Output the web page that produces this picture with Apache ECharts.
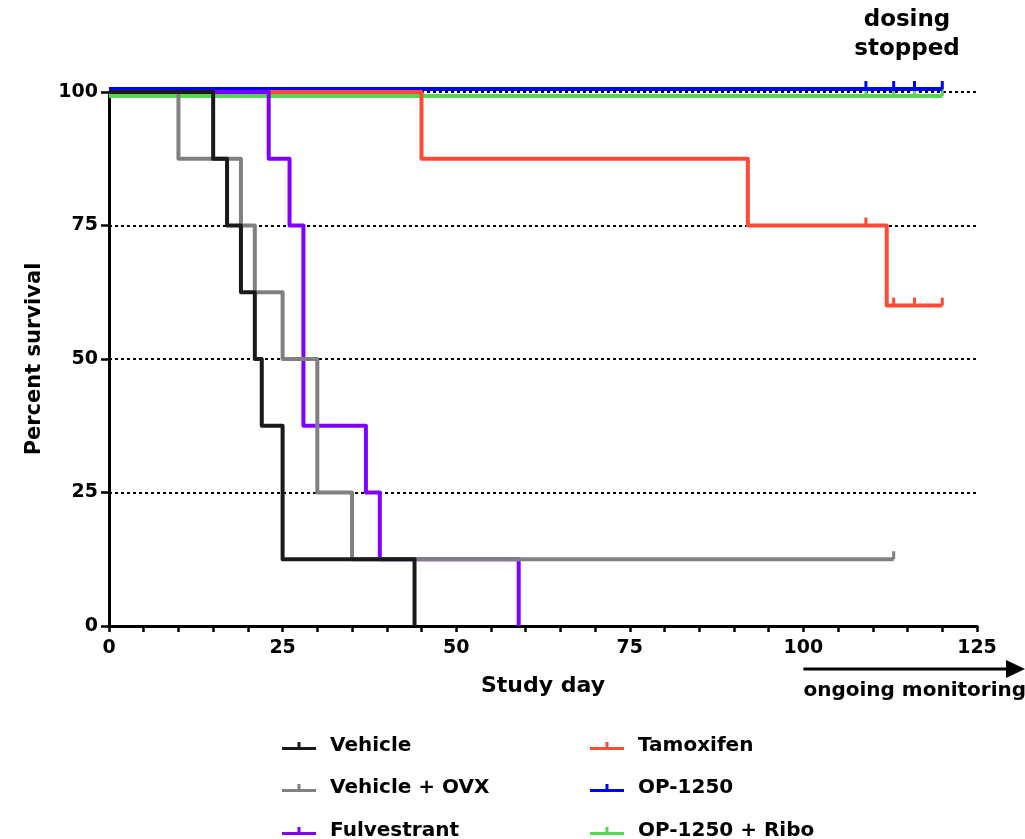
<!DOCTYPE html>
<html>
<head>
<meta charset="utf-8">
<title>Percent survival</title>
<script src="https://cdn.jsdelivr.net/npm/echarts@6/dist/echarts.min.js"></script>
<style>
  html, body { margin: 0; padding: 0; background: #ffffff; }
  #chart { width: 1025px; height: 839px; }
</style>
</head>
<body>
<div id="chart"></div>
<script>
// Kaplan–Meier step data: event days and survival (%) after each event
const vehicleDays = [0, 15, 17, 19, 21, 22, 25, 44];
const vehicleSurv = [100, 87.5, 75, 62.5, 50, 37.5, 12.5, 0];
const vehicleCensor = [];

const ovxDays = [0, 10, 19, 21, 25, 30, 35, 113];
const ovxSurv = [100, 87.5, 75, 62.5, 50, 25, 12.5, 12.5];
const ovxCensor = [113];

const fulvDays = [0, 23, 26, 28, 37, 39, 59];
const fulvSurv = [100, 87.5, 75, 37.5, 25, 12.5, 0];
const fulvCensor = [];

const tamDays = [0, 45, 92, 112, 120];
const tamSurv = [100, 87.5, 75, 60, 60];
const tamCensor = [109, 113, 116, 120];

const opDays = [0, 120];
const opSurv = [100, 100];
const opCensor = [109, 113, 116, 120];

const riboDays = [0, 120];
const riboSurv = [100, 100];
const riboCensor = [109, 113, 116, 120];

const xTicks = [0, 25, 50, 75, 100, 125];
const yTicks = [0, 25, 50, 75, 100];

const FONT = '"DejaVu Sans", "Liberation Sans", sans-serif';

// survival value in force on a given day (step function lookup)
function survAt(days, surv, day) {
  let v = surv[0];
  for (let i = 0; i < days.length; i++) {
    if (days[i] <= day) v = surv[i];
  }
  return v;
}

// draws one step curve plus its censor ticks; dy separates curves sharing 100%
function stepRenderer(days, surv, censor, color, dy) {
  return function (params, api) {
    if (params.dataIndex !== 0) return null;
    const pts = [];
    for (let i = 0; i < days.length; i++) {
      if (i > 0) {
        const c = api.coord([days[i], surv[i - 1]]);
        pts.push([c[0], c[1] + dy]);
      }
      const p = api.coord([days[i], surv[i]]);
      pts.push([p[0], p[1] + dy]);
    }
    const children = [{
      type: 'polyline',
      shape: { points: pts },
      style: { stroke: color, lineWidth: 4, fill: null, lineJoin: 'round', lineCap: 'butt' }
    }];
    censor.forEach(function (d) {
      const p = api.coord([d, survAt(days, surv, d)]);
      children.push({
        type: 'line',
        shape: { x1: p[0], y1: p[1] + dy, x2: p[0], y2: p[1] + dy - 8 },
        style: { stroke: color, lineWidth: 3 }
      });
    });
    return { type: 'group', children: children };
  };
}

const groups = [
  { name: 'Vehicle',         days: vehicleDays, surv: vehicleSurv, censor: vehicleCensor, color: '#1a1a1a', dy: 0 },
  { name: 'Vehicle + OVX',   days: ovxDays,     surv: ovxSurv,     censor: ovxCensor,     color: '#808080', dy: 0 },
  { name: 'Fulvestrant',     days: fulvDays,    surv: fulvSurv,    censor: fulvCensor,    color: '#8000ff', dy: 0 },
  { name: 'Tamoxifen',       days: tamDays,     surv: tamSurv,     censor: tamCensor,     color: '#ff4a36', dy: 0 },
  { name: 'OP-1250',         days: opDays,      surv: opSurv,      censor: opCensor,      color: '#0000ff', dy: -3 },
  { name: 'OP-1250 + Ribo',  days: riboDays,    surv: riboSurv,    censor: riboCensor,    color: '#55d655', dy: 4 }
];

// earlier groups sit on top, so series are added in reverse
const series = groups.slice().reverse().map(function (g) {
  return {
    type: 'custom',
    name: g.name,
    clip: false,
    itemStyle: { color: g.color },
    encode: { x: 0, y: 1 },
    data: [[0, 0]],
    renderItem: stepRenderer(g.days, g.surv, g.censor, g.color, g.dy)
  };
});

// legend: two columns of three rows, one component per entry
const legendIcon = 'path://M0,5H34V8H0Z M15.5,0H18.5V6H15.5Z';
const legendCols = [277, 585];
const legendRowTops = [731, 773, 816];
const legends = groups.map(function (g, i) {
  return {
    left: legendCols[Math.floor(i / 3)],
    top: legendRowTops[i % 3],
    orient: 'horizontal',
    itemWidth: 34,
    itemHeight: 8,
    selectedMode: false,
    data: [{ name: g.name, icon: legendIcon, itemStyle: { color: g.color } }],
    textStyle: { fontFamily: FONT, fontWeight: 'bold', fontSize: 20, color: '#000', padding: [0, 0, 0, 9] }
  };
});

const chart = echarts.init(document.getElementById('chart'), null, { renderer: 'canvas' });

chart.setOption({
  animation: false,
  backgroundColor: '#ffffff',
  grid: { left: 109, top: 92, width: 868, height: 534, containLabel: false },
  xAxis: {
    type: 'value',
    min: 0,
    max: 125,
    interval: 25,
    name: 'Study day',
    nameLocation: 'middle',
    nameGap: 49,
    nameTextStyle: { fontFamily: FONT, fontWeight: 'bold', fontSize: 22, color: '#000' },
    axisLine: { lineStyle: { color: '#000', width: 3 } },
    axisTick: { show: true, length: 6, lineStyle: { color: '#000', width: 2.5 } },
    minorTick: { show: true, splitNumber: 5, length: 6, lineStyle: { color: '#000', width: 2.5 } },
    axisLabel: {
      fontFamily: FONT, fontWeight: 'bold', fontSize: 19, color: '#000', margin: 13,
      formatter: function (v) { return xTicks.indexOf(v) >= 0 ? String(v) : ''; }
    },
    splitLine: { show: false }
  },
  yAxis: {
    type: 'value',
    min: 0,
    max: 100,
    interval: 25,
    name: 'Percent survival',
    nameLocation: 'middle',
    nameGap: 64,
    nameTextStyle: { fontFamily: FONT, fontWeight: 'bold', fontSize: 21, color: '#000' },
    axisLine: { show: true, lineStyle: { color: '#000', width: 3 } },
    axisTick: { show: true, length: 8, lineStyle: { color: '#000', width: 2.5 } },
    axisLabel: {
      fontFamily: FONT, fontWeight: 'bold', fontSize: 19, color: '#000', margin: 11,
      formatter: function (v) { return yTicks.indexOf(v) >= 0 ? String(v) : ''; }
    },
    splitLine: {
      show: true,
      lineStyle: { color: '#000', width: 2, type: [3, 3] }
    }
  },
  legend: legends,
  series: series
});

// annotations: dosing note, and the monitoring arrow starting at day 100
const startX = chart.convertToPixel({ xAxisIndex: 0 }, 100);
const arrowY = 669;
chart.setOption({
  graphic: [
    {
      type: 'text',
      id: 'dosingNote',
      x: 907,
      y: 6,
      style: {
        text: 'dosing\nstopped',
        font: 'bold 23px ' + FONT,
        fill: '#000',
        align: 'center',
        verticalAlign: 'top',
        lineHeight: 29
      }
    },
    {
      type: 'text',
      id: 'monitorLabel',
      x: startX,
      y: 681,
      style: { text: 'ongoing monitoring', font: 'bold 20px ' + FONT, fill: '#000', verticalAlign: 'top' }
    },
    {
      type: 'line',
      id: 'monitorShaft',
      shape: { x1: startX, y1: arrowY, x2: 1008, y2: arrowY },
      style: { stroke: '#000', lineWidth: 3 }
    },
    {
      type: 'polygon',
      id: 'monitorHead',
      shape: { points: [[1006, arrowY - 9], [1025, arrowY], [1006, arrowY + 9]] },
      style: { fill: '#000' }
    }
  ]
});
</script>
</body>
</html>
